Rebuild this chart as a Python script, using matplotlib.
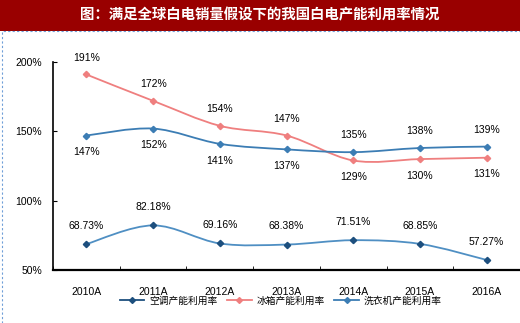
import matplotlib
matplotlib.use("Agg")
import matplotlib.pyplot as plt
from matplotlib.path import Path
from matplotlib.patches import PathPatch, Rectangle
from matplotlib.lines import Line2D
import numpy as np

plt.rcParams["font.family"] = ["Liberation Sans", "Noto Sans CJK SC", "DejaVu Sans"]

# data
years = ["2010A", "2011A", "2012A", "2013A", "2014A", "2015A", "2016A"]
ac_rate = [68.73, 82.18, 69.16, 68.38, 71.51, 68.85, 57.27]
fridge_rate = [191, 172, 154, 147, 129, 130, 131]
washer_rate = [147, 152, 141, 137, 135, 138, 139]
series_names = ["空调产能利用率", "冰箱产能利用率", "洗衣机产能利用率"]

AC_LINE = "#4f8fc3"
AC_MARK = "#1d4f7e"
FRIDGE = "#ef7f7f"
WASHER = "#3c7db4"
TITLE_BG = "#990000"


def smooth_path(xs, ys):
    # Catmull-Rom style bezier through the points (Excel-like smoothing)
    pts = np.column_stack([xs, ys]).astype(float)
    verts = [pts[0]]
    codes = [Path.MOVETO]
    n = len(pts)
    for i in range(n - 1):
        p0 = pts[max(i - 1, 0)]
        p1 = pts[i]
        p2 = pts[i + 1]
        p3 = pts[min(i + 2, n - 1)]
        c1 = p1 + (p2 - p0) / 6.0
        c2 = p2 - (p3 - p1) / 6.0
        verts += [c1, c2, p2]
        codes += [Path.CURVE4] * 3
    return Path(verts, codes)


fig = plt.figure(figsize=(5.2, 3.23), dpi=100)

# title bar + dashed frame
fig.patches.append(Rectangle((0, 0.904), 1, 0.096, transform=fig.transFigure,
                             facecolor=TITLE_BG, edgecolor="none", zorder=0))
fig.patches.append(Rectangle((0.003, -0.01), 1.0, 0.914, transform=fig.transFigure,
                             facecolor="none", edgecolor="#6f9fd8", lw=0.8,
                             linestyle=(0, (2, 2)), zorder=1))
fig.text(0.5, 0.952, "图：满足全球白电销量假设下的我国白电产能利用率情况",
         color="white", fontsize=10.4, fontweight="bold", ha="center", va="center",
         family=["Noto Sans CJK SC", "DejaVu Sans"])

ax = fig.add_axes([0.102, 0.164, 0.898, 0.644])
x = np.arange(len(years))

for vals, lc, mc in [(ac_rate, AC_LINE, AC_MARK),
                     (fridge_rate, FRIDGE, FRIDGE),
                     (washer_rate, WASHER, WASHER)]:
    ax.add_patch(PathPatch(smooth_path(x, vals), facecolor="none",
                           edgecolor=lc, lw=1.3, zorder=3))
    ax.plot(x, vals, linestyle="none", marker="D", markersize=3.2,
            color=mc, zorder=4)

# data labels
for i in range(len(years)):
    ax.annotate(f"{ac_rate[i]:.2f}%", (x[i], ac_rate[i]), xytext=(0, 13),
                textcoords="offset points", ha="center", va="center", fontsize=7.5)
    if fridge_rate[i] > washer_rate[i]:
        f_off, w_off = 12, -12
    else:
        f_off, w_off = -12, 12
    ax.annotate(f"{fridge_rate[i]}%", (x[i], fridge_rate[i]), xytext=(0, f_off),
                textcoords="offset points", ha="center", va="center", fontsize=7.5)
    ax.annotate(f"{washer_rate[i]}%", (x[i], washer_rate[i]), xytext=(0, w_off),
                textcoords="offset points", ha="center", va="center", fontsize=7.5)

ax.set_xlim(-0.5, 6.5)
ax.set_ylim(50, 200)
ax.set_yticks([50, 100, 150, 200])
ax.set_yticklabels(["50%", "100%", "150%", "200%"], fontsize=7.5)
ax.set_xticks(x)
ax.set_xticklabels(years, fontsize=7.5)
ax.set_xticks(np.arange(-0.5, 7, 1), minor=True)
ax.tick_params(axis="x", which="major", length=0, pad=12)
ax.tick_params(axis="x", which="minor", direction="in", length=3)
ax.tick_params(axis="y", direction="in", length=3, pad=8)
for s in ["top", "right"]:
    ax.spines[s].set_visible(False)
ax.spines["left"].set_linewidth(1.2)
ax.spines["bottom"].set_linewidth(1.6)

handles = [Line2D([], [], color=AC_MARK, marker="D", markersize=3, lw=1.3),
           Line2D([], [], color=FRIDGE, marker="D", markersize=3, lw=1.3),
           Line2D([], [], color=WASHER, marker="D", markersize=3, lw=1.3)]
fig.legend(handles, series_names, loc="center", bbox_to_anchor=(0.54, 0.07),
           ncol=3, frameon=False, handlelength=2.5,
           columnspacing=1.0, handletextpad=0.5,
           prop={"family": ["Noto Sans CJK SC", "DejaVu Sans"], "size": 7})

fig.savefig("out.png", dpi=100)
